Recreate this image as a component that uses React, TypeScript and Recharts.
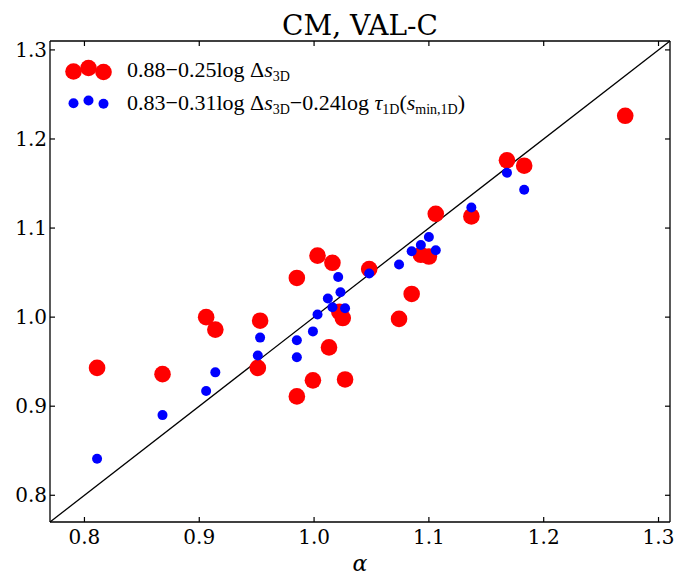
import React from 'react';
import { ScatterChart, Scatter, XAxis, YAxis, ReferenceLine, Legend } from 'recharts';

// alpha vs. fitted value, both axes share the same range
const axisTicks = [0.8, 0.9, 1.0, 1.1, 1.2, 1.3];
const axisDomain: [number, number] = [0.77, 1.31];

// 0.88 - 0.25 log ds3D
const redX = [0.811, 0.868, 0.906, 0.914, 0.953, 0.951, 0.985, 0.985, 0.999, 1.003, 1.016, 1.013, 1.022, 1.025, 1.027, 1.048, 1.074, 1.085, 1.093, 1.1, 1.106, 1.137, 1.168, 1.183, 1.271];
const redY = [0.943, 0.936, 1.0, 0.986, 0.996, 0.943, 1.044, 0.911, 0.929, 1.069, 1.061, 0.966, 1.006, 0.999, 0.93, 1.054, 0.998, 1.026, 1.07, 1.068, 1.116, 1.113, 1.176, 1.17, 1.226];

// 0.83 - 0.31 log ds3D - 0.24 log tau1D
const blueX = [0.811, 0.868, 0.906, 0.914, 0.953, 0.951, 0.985, 0.985, 0.999, 1.003, 1.012, 1.021, 1.023, 1.016, 1.027, 1.048, 1.074, 1.085, 1.093, 1.1, 1.106, 1.137, 1.168, 1.183];
const blueY = [0.841, 0.89, 0.917, 0.938, 0.977, 0.957, 0.974, 0.955, 0.984, 1.003, 1.021, 1.045, 1.028, 1.011, 1.01, 1.049, 1.059, 1.074, 1.081, 1.09, 1.075, 1.123, 1.162, 1.143];

const W = 678;
const H = 577;
const SERIF = '"DejaVu Serif", serif';
const MATH = '"Liberation Serif", "DejaVu Serif", serif';
const TICK_LEN = 5;

const redData = redX.map((x, i) => ({ x, y: redY[i] }));
const blueData = blueX.map((x, i) => ({ x, y: blueY[i] }));

const BottomTick = (props: any) => {
  const { x, y, payload } = props;
  return (
    <g>
      <line x1={x} y1={y} x2={x} y2={y - TICK_LEN} stroke="#000" strokeWidth={1.2} />
      <text x={x} y={y + 22} textAnchor="middle" fontFamily={SERIF} fontSize={20} fill="#000">
        {Number(payload.value).toFixed(1)}
      </text>
    </g>
  );
};

const TopTick = (props: any) => {
  const { x, y } = props;
  return <line x1={x} y1={y} x2={x} y2={y + TICK_LEN} stroke="#000" strokeWidth={1.2} />;
};

const LeftTick = (props: any) => {
  const { x, y, payload } = props;
  return (
    <g>
      <line x1={x} y1={y} x2={x + TICK_LEN} y2={y} stroke="#000" strokeWidth={1.2} />
      <text x={x - 3} y={y + 7} textAnchor="end" fontFamily={SERIF} fontSize={20} fill="#000">
        {Number(payload.value).toFixed(1)}
      </text>
    </g>
  );
};

const RightTick = (props: any) => {
  const { x, y } = props;
  return <line x1={x} y1={y} x2={x - TICK_LEN} y2={y} stroke="#000" strokeWidth={1.2} />;
};

const Sub = ({ children }: { children: React.ReactNode }) => (
  <tspan dy={4} fontSize={14}>{children}</tspan>
);

const Up = ({ children }: { children: React.ReactNode }) => <tspan dy={-4}>{children}</tspan>;

const LegendBox = () => {
  const xs = [73.5, 88.5, 103.5];
  const offs = [1, -2.5, 1.5];
  return (
    <svg width={W} height={H} style={{ position: 'absolute', left: 0, top: 0, pointerEvents: 'none' }}>
      {xs.map((cx, i) => (
        <circle key={'r' + i} cx={cx} cy={70.5 + offs[i]} r={8.3} fill="#ff0000" />
      ))}
      {xs.map((cx, i) => (
        <circle key={'b' + i} cx={cx} cy={102.5 + offs[i] * 0.8} r={5} fill="#0000ff" />
      ))}
      <text x={127} y={77} fontFamily={MATH} fontSize={22} fill="#000">
        0.88−0.25log Δ<tspan fontStyle="italic">s</tspan>
        <Sub>3D</Sub>
      </text>
      <text x={127} y={110} fontFamily={MATH} fontSize={22} fill="#000">
        0.83−0.31log Δ<tspan fontStyle="italic">s</tspan>
        <Sub>3D</Sub>
        <Up>−0.24log </Up>
        <tspan fontStyle="italic">τ</tspan>
        <Sub>1D</Sub>
        <Up>(</Up>
        <tspan fontStyle="italic">s</tspan>
        <Sub>min,1D</Sub>
        <Up>)</Up>
      </text>
    </svg>
  );
};

const RedDot = (p: any) => <circle cx={p.cx} cy={p.cy} r={8.3} fill="#ff0000" />;
const BlueDot = (p: any) => <circle cx={p.cx} cy={p.cy} r={5} fill="#0000ff" />;

export default function App() {
  return (
    <div style={{ position: 'absolute', left: 0, top: 0, width: W, height: H, background: '#fff' }}>
      <ScatterChart width={W} height={H} margin={{ top: 40, right: 7, bottom: 25, left: 0 }}>
        <text x={360} y={35} textAnchor="middle" fontFamily={SERIF} fontSize={28} fill="#000">
          CM, VAL-C
        </text>
        <XAxis
          xAxisId="b"
          dataKey="x"
          type="number"
          domain={axisDomain}
          ticks={axisTicks}
          allowDataOverflow
          orientation="bottom"
          height={30}
          tickSize={0}
          tickMargin={0}
          tickLine={false}
          tick={<BottomTick />}
          axisLine={{ stroke: '#000', strokeWidth: 1.3 }}
        />
        <XAxis
          xAxisId="t"
          dataKey="x"
          type="number"
          domain={axisDomain}
          ticks={axisTicks}
          allowDataOverflow
          orientation="top"
          height={1}
          tickSize={0}
          tickMargin={0}
          tickLine={false}
          tick={<TopTick />}
          axisLine={{ stroke: '#000', strokeWidth: 1.3 }}
        />
        <YAxis
          yAxisId="l"
          dataKey="y"
          type="number"
          domain={axisDomain}
          ticks={axisTicks}
          allowDataOverflow
          orientation="left"
          width={50}
          tickSize={0}
          tickMargin={0}
          tickLine={false}
          tick={<LeftTick />}
          axisLine={{ stroke: '#000', strokeWidth: 1.3 }}
        />
        <YAxis
          yAxisId="r"
          dataKey="y"
          type="number"
          domain={axisDomain}
          ticks={axisTicks}
          allowDataOverflow
          orientation="right"
          width={1}
          tickSize={0}
          tickMargin={0}
          tickLine={false}
          tick={<RightTick />}
          axisLine={{ stroke: '#000', strokeWidth: 1.3 }}
        />
        <text x={360} y={571} textAnchor="middle" fontFamily={SERIF} fontStyle="italic" fontSize={22} fill="#000">
          α
        </text>
        <ReferenceLine
          xAxisId="b"
          yAxisId="l"
          segment={[{ x: axisDomain[0], y: axisDomain[0] }, { x: axisDomain[1], y: axisDomain[1] }]}
          stroke="#000"
          strokeWidth={1.3}
          ifOverflow="extendDomain"
        />
        {/* hidden series so the top/right frame axes get drawn */}
        <Scatter xAxisId="t" yAxisId="r" data={redData} shape={() => <g />} isAnimationActive={false} />
        <Scatter xAxisId="b" yAxisId="l" data={redData} shape={<RedDot />} isAnimationActive={false} />
        <Scatter xAxisId="b" yAxisId="l" data={blueData} shape={<BlueDot />} isAnimationActive={false} />
        <Legend
          layout="horizontal"
          verticalAlign="middle"
          align="center"
          wrapperStyle={{ position: 'absolute', left: 0, top: 0, width: W, height: H, pointerEvents: 'none' }}
          content={() => <LegendBox />}
        />
      </ScatterChart>
    </div>
  );
}
